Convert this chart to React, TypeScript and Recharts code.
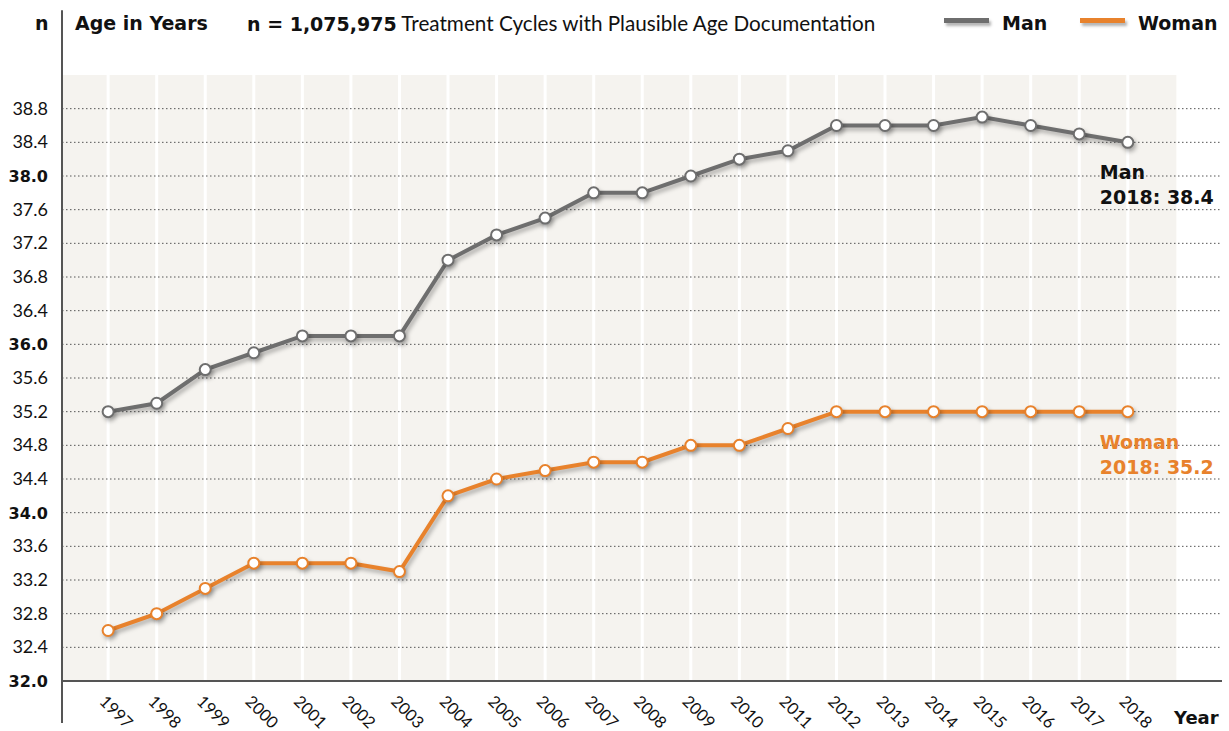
import React from "react";
import { LineChart, Line, XAxis, YAxis, ReferenceArea, ReferenceLine, ReferenceDot } from "recharts";

const years = [1997, 1998, 1999, 2000, 2001, 2002, 2003, 2004, 2005, 2006, 2007, 2008, 2009, 2010, 2011, 2012, 2013, 2014, 2015, 2016, 2017, 2018];
const manAges = [35.2, 35.3, 35.7, 35.9, 36.1, 36.1, 36.1, 37.0, 37.3, 37.5, 37.8, 37.8, 38.0, 38.2, 38.3, 38.6, 38.6, 38.6, 38.7, 38.6, 38.5, 38.4];
const womanAges = [32.6, 32.8, 33.1, 33.4, 33.4, 33.4, 33.3, 34.2, 34.4, 34.5, 34.6, 34.6, 34.8, 34.8, 35.0, 35.2, 35.2, 35.2, 35.2, 35.2, 35.2, 35.2];
const yTicks = [32.0, 32.4, 32.8, 33.2, 33.6, 34.0, 34.4, 34.8, 35.2, 35.6, 36.0, 36.4, 36.8, 37.2, 37.6, 38.0, 38.4, 38.8];
const boldTicks = [32.0, 34.0, 36.0, 38.0];

const X_MIN = 1996.05;
const X_MAX = 2019.94;
const BAND_END = 2019;

const MAN = "#6e6e6e";
const WOMAN = "#e8822c";
const FONT = "Lato, 'Open Sans', sans-serif";
const BOLD = "'DejaVu Sans', Verdana, sans-serif";

const data = years.map((y, i) => ({ year: y, man: manAges[i], woman: womanAges[i] }));

const YTick = (props: any) => {
  const { x, y, payload } = props;
  const bold = boldTicks.includes(payload.value);
  return (
    <text
      x={x - 6}
      y={y}
      dy={6}
      textAnchor="end"
      fontFamily={bold ? BOLD : FONT}
      fontSize={bold ? 16 : 18}
      fontWeight={bold ? 700 : 400}
      fill="#111"
    >
      {payload.value.toFixed(1)}
    </text>
  );
};

const XTick = (props: any) => {
  const { x, y, payload } = props;
  return (
    <g transform={`translate(${x - 6},${y + 10}) rotate(45)`}>
      <text x={0} y={0} dy={5} textAnchor="start" fontFamily={FONT} fontSize={16.5} fill="#111">
        {payload.value}
      </text>
    </g>
  );
};

const makeNote = (title: string, value: string, color: string) => (p: any) => {
  const { cx, cy } = p;
  return (
    <g>
      <text x={cx - 28} y={cy + 37} fontFamily={BOLD} fontSize={19} fontWeight={700} fill={color}>{title}</text>
      <text x={cx - 28} y={cy + 62} fontFamily={BOLD} fontSize={19} fontWeight={700} fill={color}>{value}</text>
    </g>
  );
};

const shadow = { filter: "drop-shadow(2px 3px 2px rgba(0,0,0,0.3))" };

const boldText: React.CSSProperties = { position: "absolute", top: 9, fontFamily: BOLD, fontSize: 19, fontWeight: 700, color: "#111", lineHeight: "28px", whiteSpace: "nowrap" };

export default function App() {
  return (
    <div style={{ position: "absolute", left: 0, top: 0, width: 1229, height: 731, background: "#fff", fontFamily: FONT }}>
      <LineChart width={1229} height={731} data={data} margin={{ top: 75, right: 7, bottom: 20, left: 0 }}>
        <XAxis
          type="number"
          dataKey="year"
          domain={[X_MIN, X_MAX]}
          ticks={years}
          allowDataOverflow
          interval={0}
          height={30}
          tickLine={false}
          axisLine={{ stroke: "#555", strokeWidth: 2 }}
          tick={<XTick />}
        />
        <YAxis
          type="number"
          domain={[32, 39.2]}
          ticks={yTicks}
          allowDataOverflow
          interval={0}
          width={62}
          tickLine={false}
          axisLine={false}
          tick={<YTick />}
        />
        <ReferenceArea x1={X_MIN} x2={BAND_END} y1={32} y2={39.2} fill="#f5f3ef" fillOpacity={1} stroke="none" />
        {years.map((y) => (
          <ReferenceLine key={"v" + y} x={y} stroke="#ffffff" strokeWidth={3} />
        ))}
        {yTicks.filter((t) => t > 32).map((t) => (
          <ReferenceLine key={"h" + t} y={t} stroke="#555" strokeWidth={1} strokeDasharray="1.5 2.5" />
        ))}
        <ReferenceLine
          segment={[{ x: X_MIN, y: 31.5 }, { x: X_MIN, y: 39.97 }]}
          ifOverflow="visible"
          stroke="#555"
          strokeWidth={2}
        />
        <Line
          type="linear"
          dataKey="man"
          stroke={MAN}
          strokeWidth={4}
          style={shadow}
          dot={{ r: 5.5, fill: "#fff", stroke: MAN, strokeWidth: 2 }}
          isAnimationActive={false}
        />
        <Line
          type="linear"
          dataKey="woman"
          stroke={WOMAN}
          strokeWidth={4}
          style={shadow}
          dot={{ r: 5.5, fill: "#fff", stroke: WOMAN, strokeWidth: 2 }}
          isAnimationActive={false}
        />
        <ReferenceDot x={years[years.length - 1]} y={manAges[manAges.length - 1]} r={0} shape={makeNote("Man", "2018: " + manAges[manAges.length - 1].toFixed(1), "#111")} />
        <ReferenceDot x={years[years.length - 1]} y={womanAges[womanAges.length - 1]} r={0} shape={makeNote("Woman", "2018: " + womanAges[womanAges.length - 1].toFixed(1), WOMAN)} />
      </LineChart>

      <div style={{ ...boldText, left: 35 }}>n</div>
      <div style={{ ...boldText, left: 75 }}>Age in Years</div>
      <div style={{ position: "absolute", left: 247, top: 9, fontSize: 20.7, color: "#111", lineHeight: "28px", whiteSpace: "nowrap" }}>
        <span style={{ fontFamily: BOLD, fontWeight: 700, fontSize: 19 }}>n = 1,075,975</span> Treatment Cycles with Plausible Age Documentation
      </div>

      <div style={{ position: "absolute", left: 944, top: 18, width: 45, height: 5, background: MAN, boxShadow: "2px 3px 3px rgba(0,0,0,0.3)" }} />
      <div style={{ ...boldText, left: 1002 }}>Man</div>
      <div style={{ position: "absolute", left: 1080, top: 18, width: 45, height: 5, background: WOMAN, boxShadow: "2px 3px 3px rgba(0,0,0,0.3)" }} />
      <div style={{ ...boldText, left: 1138 }}>Woman</div>

      <div style={{ ...boldText, left: 1174, top: 704, fontSize: 18 }}>Year</div>
    </div>
  );
}
